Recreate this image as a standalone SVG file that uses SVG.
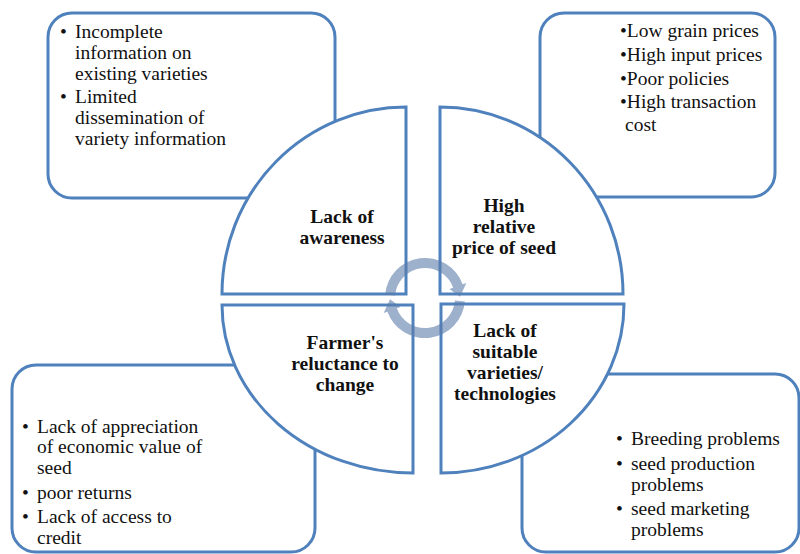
<svg xmlns="http://www.w3.org/2000/svg" width="800" height="554" viewBox="0 0 800 554">
<style>
.box{fill:#fff;stroke:#4F81BD;stroke-width:3}
.pie{fill:#fff;stroke:#4F81BD;stroke-width:3;stroke-linejoin:miter}
text{font-family:'Liberation Serif','DejaVu Serif',serif;font-size:19.5px;fill:#111}
.b{font-weight:bold;text-anchor:middle}
.arr{fill:#5C7DAA;opacity:0.6}
</style>
<rect width="800" height="554" fill="#fff"/>
<g id="box-awareness">
<rect class="box" x="48" y="13" width="287" height="185" rx="24"/>
<text font-family="Liberation Serif, DejaVu Serif, serif"><tspan x="60" y="38">•</tspan><tspan x="75" y="38">Incomplete</tspan><tspan x="75" y="59">information on</tspan><tspan x="75" y="80">existing varieties</tspan><tspan x="60" y="103">•</tspan><tspan x="75" y="103">Limited</tspan><tspan x="75" y="124">dissemination of</tspan><tspan x="75" y="145">variety information</tspan></text>
</g>
<g id="box-price">
<rect class="box" x="540" y="13" width="235" height="184" rx="24"/>
<text font-family="Liberation Serif, DejaVu Serif, serif"><tspan x="620" y="37">•Low grain prices</tspan><tspan x="620" y="61">•High input prices</tspan><tspan x="620" y="85">•Poor policies</tspan><tspan x="620" y="108">•High transaction</tspan><tspan x="625" y="131">cost</tspan></text>
</g>
<g id="box-reluctance">
<rect class="box" x="12" y="365" width="303" height="187" rx="24"/>
<text font-family="Liberation Serif, DejaVu Serif, serif"><tspan x="22" y="433">•</tspan><tspan x="37" y="433">Lack of appreciation</tspan><tspan x="37" y="453">of economic value of</tspan><tspan x="37" y="474">seed</tspan><tspan x="22" y="499">•</tspan><tspan x="37" y="499">poor returns</tspan><tspan x="22" y="523">•</tspan><tspan x="37" y="523">Lack of access to</tspan><tspan x="37" y="544">credit</tspan></text>
</g>
<g id="box-varieties">
<rect class="box" x="522" y="374" width="277" height="178" rx="24"/>
<text font-family="Liberation Serif, DejaVu Serif, serif"><tspan x="616" y="445">•</tspan><tspan x="631" y="445">Breeding problems</tspan><tspan x="616" y="470">•</tspan><tspan x="631" y="470">seed production</tspan><tspan x="631" y="491">problems</tspan><tspan x="616" y="515">•</tspan><tspan x="631" y="515">seed marketing</tspan><tspan x="631" y="536">problems</tspan></text>
</g>
<g id="q-awareness">
<path class="pie" d="M406 294 L222 294 A184 187 0 0 1 406 107 Z"/>
<text class="b" font-family="Liberation Serif, DejaVu Serif, serif"><tspan x="342" y="223">Lack of</tspan><tspan x="342" y="244">awareness</tspan></text>
</g>
<g id="q-price">
<path class="pie" d="M440 294 L440 107 A183 187 0 0 1 623 294 Z"/>
<text class="b" font-family="Liberation Serif, DejaVu Serif, serif"><tspan x="504" y="212">High</tspan><tspan x="504" y="233">relative</tspan><tspan x="504" y="254">price of seed</tspan></text>
</g>
<g id="q-varieties">
<path class="pie" d="M441 304 L624 304 A183 169 0 0 1 441 473 Z"/>
<text class="b" font-family="Liberation Serif, DejaVu Serif, serif"><tspan x="505" y="337">Lack of</tspan><tspan x="505" y="358">suitable</tspan><tspan x="505" y="379">varieties/</tspan><tspan x="505" y="400">technologies</tspan></text>
</g>
<g id="q-reluctance">
<path class="pie" d="M413 305 L413 473 A191 168 0 0 1 222 305 Z"/>
<text class="b" font-family="Liberation Serif, DejaVu Serif, serif"><tspan x="345" y="349">Farmer's</tspan><tspan x="345" y="370">reluctance to</tspan><tspan x="345" y="391">change</tspan></text>
</g>
<g id="connectors">
<path class="arr" d="M385.15 294.51 A40 40 0 0 1 462.59 284.32 L466.35 282.95 L459.98 296.78 L449.43 289.11 L453.19 287.74 A30 30 0 0 0 395.11 295.39 Z"/>
<path class="arr" d="M464.85 301.49 A40 40 0 0 1 387.41 311.68 L383.65 313.05 L390.02 299.22 L400.57 306.89 L396.81 308.26 A30 30 0 0 0 454.89 300.61 Z"/>
</g>
</svg>
